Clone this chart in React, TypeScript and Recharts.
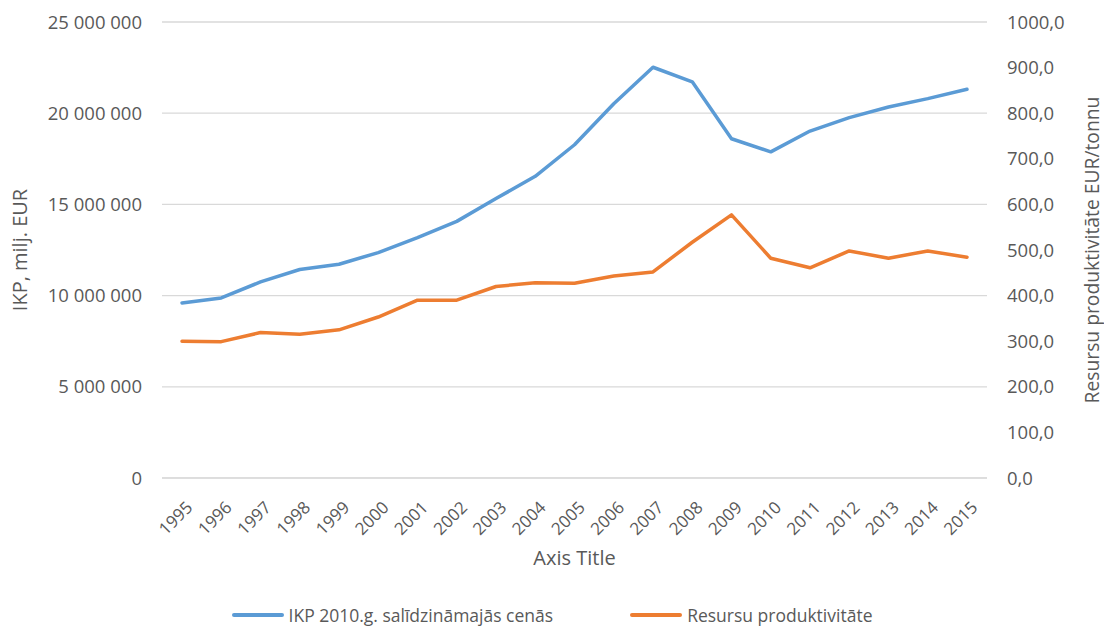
import React from "react";
import {
  LineChart, Line, XAxis, YAxis, CartesianGrid, Legend,
} from "recharts";

const years = [
  "1995", "1996", "1997", "1998", "1999", "2000", "2001", "2002", "2003", "2004",
  "2005", "2006", "2007", "2008", "2009", "2010", "2011", "2012", "2013", "2014", "2015",
];

// IKP 2010.g. salīdzināmajās cenās
const ikp = [
  9600000, 9870000, 10750000, 11430000, 11720000, 12360000, 13180000, 14070000,
  15320000, 16540000, 18270000, 20520000, 22520000, 21720000, 18600000, 17880000,
  19020000, 19760000, 20340000, 20800000, 21310000,
];

// Resursu produktivitāte
const produktivitate = [
  300, 299, 319, 315, 325, 353, 390, 390, 420, 428, 427, 443, 452, 517, 577,
  482, 461, 498, 482, 498, 484,
];

const leftTicks = [0, 5000000, 10000000, 15000000, 20000000, 25000000];
const rightTicks = [0, 100, 200, 300, 400, 500, 600, 700, 800, 900, 1000];

const data = years.map((y, i) => ({ year: y, ikp: ikp[i], prod: produktivitate[i] }));

const FONT = "'Open Sans', 'Noto Sans', sans-serif";
const TXT = "#595959";
const BLUE = "#5b9bd5";
const ORANGE = "#ed7d31";

const fmtLeft = (v: number) => v.toString().replace(/\B(?=(\d{3})+(?!\d))/g, " ");
const fmtRight = (v: number) => v.toFixed(1).replace(".", ",");

// eslint-disable-next-line @typescript-eslint/no-explicit-any
function XTick({ x, y, payload }: any) {
  return (
    <g transform={`translate(${x + 3},${y + 20})`}>
      <text transform="rotate(-45)" textAnchor="end" dy="0.71em"
        fill={TXT} fontSize={17} fontFamily={FONT}>
        {payload.value}
      </text>
    </g>
  );
}

function LegendBox() {
  const items = [
    { label: "IKP 2010.g. salīdzināmajās cenās", color: BLUE },
    { label: "Resursu produktivitāte", color: ORANGE },
  ];
  return (
    <div style={{ height: 44, boxSizing: "border-box", paddingTop: 18, display: "flex",
      justifyContent: "center", alignItems: "center", gap: 77,
      fontFamily: FONT, fontSize: 17.5, color: TXT }}>
      {items.map((it) => (
        <div key={it.label} style={{ display: "flex", alignItems: "center" }}>
          <span style={{ display: "inline-block", width: 52, height: 4, borderRadius: 2,
            background: it.color, marginRight: 5 }} />
          <span>{it.label}</span>
        </div>
      ))}
    </div>
  );
}

export default function App() {
  return (
    <div style={{ position: "absolute", left: 0, top: 0, width: 1104, height: 628, background: "#fff" }}>
      <LineChart width={1104} height={628} data={data}
        margin={{ top: 22, right: 0, left: 0, bottom: 0 }}>
        <CartesianGrid yAxisId="left" vertical={false} stroke="#d9d9d9" strokeWidth={1.3} />
        <XAxis dataKey="year" height={106} interval={0} tickLine={false} tickSize={0}
          axisLine={{ stroke: "#d9d9d9" }} padding={{ left: 20, right: 20 }}
          tick={<XTick />}
          label={{ value: "Axis Title", position: "insideBottom", offset: 19,
            fill: TXT, fontSize: 20, fontFamily: FONT }} />
        <YAxis yAxisId="left" width={162} domain={[0, 25000000]} ticks={leftTicks}
          tickFormatter={fmtLeft} axisLine={false} tickLine={false} tickSize={0} tickMargin={20}
          tick={{ fill: TXT, fontSize: 18.5, fontFamily: FONT }}
          label={{ value: "IKP, milj. EUR", angle: -90, position: "insideLeft", offset: 20,
            style: { textAnchor: "middle" }, fill: TXT, fontSize: 20, fontFamily: FONT }} />
        <YAxis yAxisId="right" orientation="right" width={117} domain={[0, 1000]} ticks={rightTicks}
          tickFormatter={fmtRight} axisLine={false} tickLine={false} tickSize={0} tickMargin={20}
          tick={{ fill: TXT, fontSize: 18.5, fontFamily: FONT, textAnchor: "start" }}
          label={{ value: "Resursu produktivitāte EUR/tonnu", angle: -90, position: "insideRight",
            offset: 12, style: { textAnchor: "middle" }, fill: TXT, fontSize: 19.3, fontFamily: FONT }} />
        <Legend verticalAlign="bottom" content={<LegendBox />} />
        <Line yAxisId="left" type="linear" dataKey="ikp" stroke={BLUE} strokeWidth={3.5}
          dot={false} strokeLinecap="round" strokeLinejoin="round" isAnimationActive={false} />
        <Line yAxisId="right" type="linear" dataKey="prod" stroke={ORANGE} strokeWidth={3.5}
          dot={false} strokeLinecap="round" strokeLinejoin="round" isAnimationActive={false} />
      </LineChart>
    </div>
  );
}
